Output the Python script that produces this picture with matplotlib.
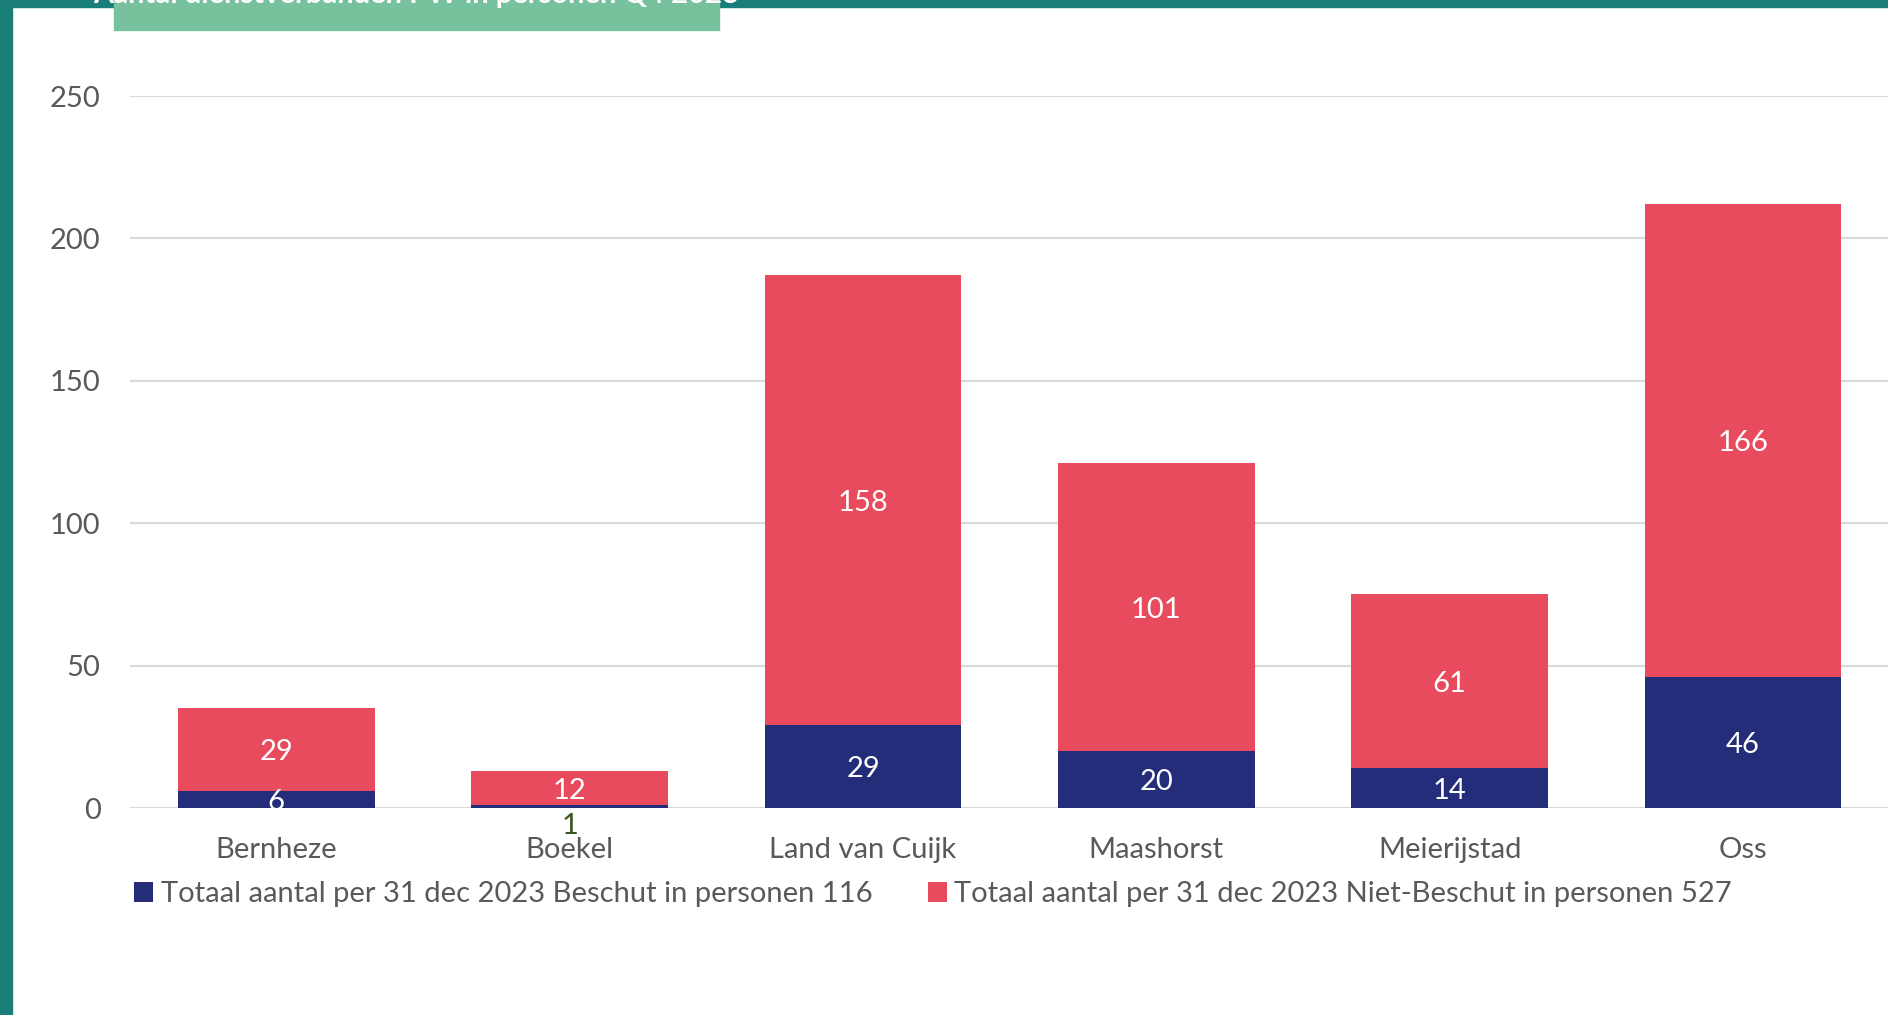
import numpy as np
import matplotlib
matplotlib.use("Agg")
from matplotlib import pyplot as plt
from matplotlib.patches import Rectangle

# Data
gemeenten = ["Bernheze", "Boekel", "Land van Cuijk", "Maashorst", "Meierijstad", "Oss"]
beschut = [6, 1, 29, 20, 14, 46]
niet_beschut = [29, 12, 158, 101, 61, 166]
yticks = [0, 50, 100, 150, 200, 250]
label_beschut = "Totaal aantal per 31 dec 2023 Beschut in personen 116"
label_niet = "Totaal aantal per 31 dec 2023 Niet-Beschut in personen 527"
title = "Aantal dienstverbanden PW in personen Q4 2023"

navy = "#232D7A"
red = "#E94B5E"
teal = "#1B7F79"
green = "#77C29C"
grey = "#595959"

plt.rcParams["font.family"] = ["Lato", "DejaVu Sans"]

fig = plt.figure(figsize=(18.88, 10.15), dpi=100)
ax = fig.add_axes([0.0687, 0.2039, 0.9322, 0.7015])

x = np.arange(len(gemeenten))
w = 0.67
b1 = ax.bar(x, beschut, w, color=navy, label=label_beschut, zorder=3)
b2 = ax.bar(x, niet_beschut, w, bottom=beschut, color=red, label=label_niet, zorder=3)

fs = 21
for i in range(len(x)):
    if beschut[i] >= 5:
        ax.text(x[i], beschut[i] / 2, str(beschut[i]), ha="center", va="center_baseline",
                color="white", fontsize=fs, zorder=4)
    else:
        ax.annotate(str(beschut[i]), (x[i], 0), xytext=(0, -18), textcoords="offset pixels",
                    ha="center", va="center", color="#375623", fontsize=fs, zorder=4)
    ax.text(x[i], beschut[i] + niet_beschut[i] / 2, str(niet_beschut[i]), ha="center",
            va="center_baseline", color="white", fontsize=fs, zorder=4)

ax.set_xlim(-0.5, len(x) - 0.5)
ax.set_ylim(0, 250)
ax.set_yticks(yticks)
ax.set_xticks(x)
ax.set_xticklabels(gemeenten)
ax.tick_params(axis="both", length=0, labelsize=fs, labelcolor=grey)
ax.tick_params(axis="y", pad=21)
ax.tick_params(axis="x", pad=21)
ax.grid(axis="y", color="#D9D9D9", linewidth=1.5, zorder=0)
for s in ax.spines.values():
    s.set_visible(False)

fig.legend(handles=[b1, b2], loc="center left", bbox_to_anchor=(0.0635, 0.119), ncol=2,
           frameon=False, fontsize=fs, labelcolor=grey, handlelength=0.65, handleheight=0.65,
           handletextpad=0.25, columnspacing=1.9, borderpad=0)

# frame and title box
fig.patches.append(Rectangle((0, 0), 12 / 1888, 1, transform=fig.transFigure, color=teal, zorder=5))
fig.patches.append(Rectangle((0, 1 - 7 / 1015), 1, 7 / 1015, transform=fig.transFigure, color=teal, zorder=5))
fig.patches.append(Rectangle((114 / 1888, 1 - 30 / 1015), 605 / 1888, 30 / 1015,
                             transform=fig.transFigure, color=green, zorder=6))
fig.text(416 / 1888, 1 - 3 / 1015, title, ha="center", va="baseline", color="white",
         fontsize=21, fontweight="bold", zorder=7)

plt.savefig("out.png", dpi=100)
